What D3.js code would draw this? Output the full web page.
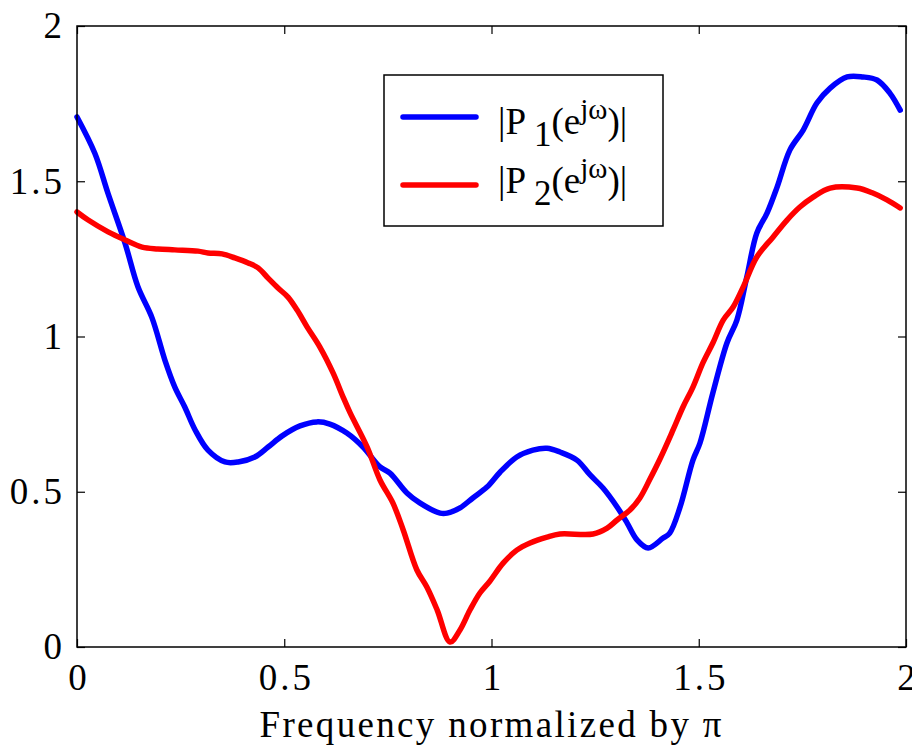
<!DOCTYPE html>
<meta charset="utf-8">
<body style="margin:0;background:#fff">
<svg width="912" height="752"></svg>
<script src="https://cdnjs.cloudflare.com/ajax/libs/d3/7.8.5/d3.min.js"></script>
<script>

// frequency (normalized by pi) and magnitudes
var p1 = [
  [0, 1.707], [0.043, 1.59], [0.075, 1.46], [0.116, 1.30], [0.147, 1.16],
  [0.181, 1.06], [0.212, 0.924], [0.236, 0.837], [0.26, 0.773], [0.285, 0.699],
  [0.316, 0.634], [0.357, 0.596], [0.389, 0.596], [0.429, 0.612], [0.461, 0.644],
  [0.495, 0.68], [0.538, 0.712], [0.579, 0.725], [0.61, 0.718], [0.651, 0.689],
  [0.69, 0.644], [0.731, 0.58], [0.755, 0.56], [0.796, 0.496], [0.827, 0.464],
  [0.876, 0.431], [0.893, 0.431], [0.924, 0.448], [0.955, 0.48], [0.989, 0.515],
  [1.02, 0.562], [1.061, 0.612], [1.1, 0.634], [1.134, 0.64], [1.165, 0.628],
  [1.206, 0.602], [1.238, 0.554], [1.269, 0.512], [1.303, 0.451], [1.327, 0.4],
  [1.351, 0.345], [1.378, 0.319], [1.414, 0.351], [1.43, 0.367], [1.455, 0.451],
  [1.486, 0.602], [1.503, 0.657], [1.534, 0.818], [1.568, 0.979], [1.592, 1.053],
  [1.616, 1.192], [1.64, 1.333], [1.665, 1.398], [1.689, 1.481], [1.72, 1.601],
  [1.752, 1.665], [1.785, 1.752], [1.817, 1.8], [1.858, 1.836], [1.896, 1.836],
  [1.93, 1.826], [1.961, 1.784], [1.986, 1.729]
];

var p2 = [
  [0, 1.401], [0.027, 1.375], [0.075, 1.337], [0.116, 1.311], [0.157, 1.288],
  [0.195, 1.282], [0.236, 1.279], [0.292, 1.275], [0.316, 1.269], [0.35, 1.266],
  [0.381, 1.253], [0.413, 1.237], [0.437, 1.221], [0.461, 1.188], [0.485, 1.156],
  [0.509, 1.127], [0.531, 1.085], [0.555, 1.031], [0.586, 0.966], [0.618, 0.882],
  [0.642, 0.805], [0.659, 0.754], [0.7, 0.644], [0.731, 0.538], [0.762, 0.464],
  [0.787, 0.377], [0.82, 0.248], [0.844, 0.193], [0.869, 0.119], [0.9, 0.016],
  [0.924, 0.055], [0.948, 0.119], [0.972, 0.174], [0.996, 0.212], [1.028, 0.27],
  [1.061, 0.312], [1.093, 0.335], [1.134, 0.354], [1.165, 0.364], [1.245, 0.364],
  [1.279, 0.383], [1.303, 0.409], [1.334, 0.441], [1.358, 0.48], [1.382, 0.54],
  [1.407, 0.607], [1.438, 0.699], [1.462, 0.773], [1.486, 0.837], [1.51, 0.915],
  [1.534, 0.979], [1.559, 1.053], [1.583, 1.095], [1.607, 1.159], [1.64, 1.256],
  [1.679, 1.32], [1.713, 1.375], [1.744, 1.417], [1.776, 1.449], [1.817, 1.478],
  [1.882, 1.478], [1.92, 1.462], [1.954, 1.44], [1.986, 1.414]
];

var xTicks = [0, 0.5, 1, 1.5, 2];
var yTicks = [0, 0.5, 1, 1.5, 2];
var seriesNames = ["1", "2"];
var seriesColors = ["#0000ff", "#ff0000"];

var svg = d3.select("svg");
var margin = {top: 26, right: 6, bottom: 105, left: 77};
var width = +svg.attr("width") - margin.left - margin.right;
var height = +svg.attr("height") - margin.top - margin.bottom;
var g = svg.append("g").attr("transform", "translate(" + margin.left + "," + margin.top + ")");

var font = "'Liberation Serif', 'Times New Roman', Times, 'DejaVu Serif', serif";

var x = d3.scaleLinear().domain([0, 2]).range([0, width]);
var y = d3.scaleLinear().domain([0, 2]).range([height, 0]);

var line = d3.line()
  .curve(d3.curveCatmullRom.alpha(0.5))
  .x(function(d) { return x(d[0]); })
  .y(function(d) { return y(d[1]); });

[p1, p2].forEach(function(data, i) {
  g.append("path")
    .attr("d", line(data))
    .attr("fill", "none")
    .attr("stroke", seriesColors[i])
    .attr("stroke-width", 5.5)
    .attr("stroke-linejoin", "round")
    .attr("stroke-linecap", "round");
});

function styleAxis(sel) {
  sel.attr("font-family", null).attr("font-size", null)
    .style("font-family", font).style("font-size", "37px");
  sel.selectAll("text").attr("fill", "#000").style("letter-spacing", "3px");
  sel.selectAll("line").attr("stroke", "#000").attr("stroke-width", 1.2);
  sel.select(".domain").remove();
}

g.append("g")
  .attr("transform", "translate(0," + height + ")")
  .call(d3.axisBottom(x).tickValues(xTicks).tickSize(-8).tickPadding(17).tickFormat(d3.format("")))
  .call(styleAxis)
  .selectAll("text").attr("dx", "1.5");

g.append("g")
  .call(d3.axisTop(x).tickValues(xTicks).tickSize(-8).tickFormat(""))
  .call(styleAxis);

g.append("g")
  .call(d3.axisLeft(y).tickValues(yTicks).tickSize(-8).tickPadding(12).tickFormat(d3.format("")))
  .call(styleAxis)
  .selectAll("text").attr("dy", "0.32em");

g.append("g")
  .attr("transform", "translate(" + width + ",0)")
  .call(d3.axisRight(y).tickValues(yTicks).tickSize(-8).tickFormat(""))
  .call(styleAxis);

// box
g.append("rect")
  .attr("width", width)
  .attr("height", height)
  .attr("fill", "none")
  .attr("stroke", "#000")
  .attr("stroke-width", 1.5);

// x label
svg.append("text")
  .attr("x", margin.left + width / 2 - 1)
  .attr("y", 737)
  .attr("text-anchor", "middle")
  .style("font-family", font)
  .style("font-size", "37px")
  .attr("textLength", 462)
  .attr("lengthAdjust", "spacing")
  .text("Frequency normalized by \u03c0");

// legend
var legend = svg.append("g").attr("transform", "translate(384,75)");
legend.append("rect")
  .attr("width", 279)
  .attr("height", 151)
  .attr("fill", "#fff")
  .attr("stroke", "#000")
  .attr("stroke-width", 1.5);

seriesNames.forEach(function(name, i) {
  var row = legend.append("g").attr("transform", "translate(0," + (42 + i * 68) + ")");
  row.append("line")
    .attr("x1", 19).attr("x2", 92)
    .attr("stroke", seriesColors[i])
    .attr("stroke-width", 5.5)
    .attr("stroke-linecap", "round");
  var t = row.append("text")
    .attr("x", 114)
    .attr("y", i === 0 ? 17 : 8)
    .style("font-family", font)
    .style("font-size", "37px");
  t.append("tspan").text("|P");
  t.append("tspan").attr("dx", 8).attr("dy", 12).style("font-size", "35px").text(name);
  t.append("tspan").attr("dy", -12).text("(e");
  t.append("tspan").attr("dy", -15).style("font-size", "29px").text("j\u03c9");
  t.append("tspan").attr("dy", 15).text(")|");
});

</script>
</body>
